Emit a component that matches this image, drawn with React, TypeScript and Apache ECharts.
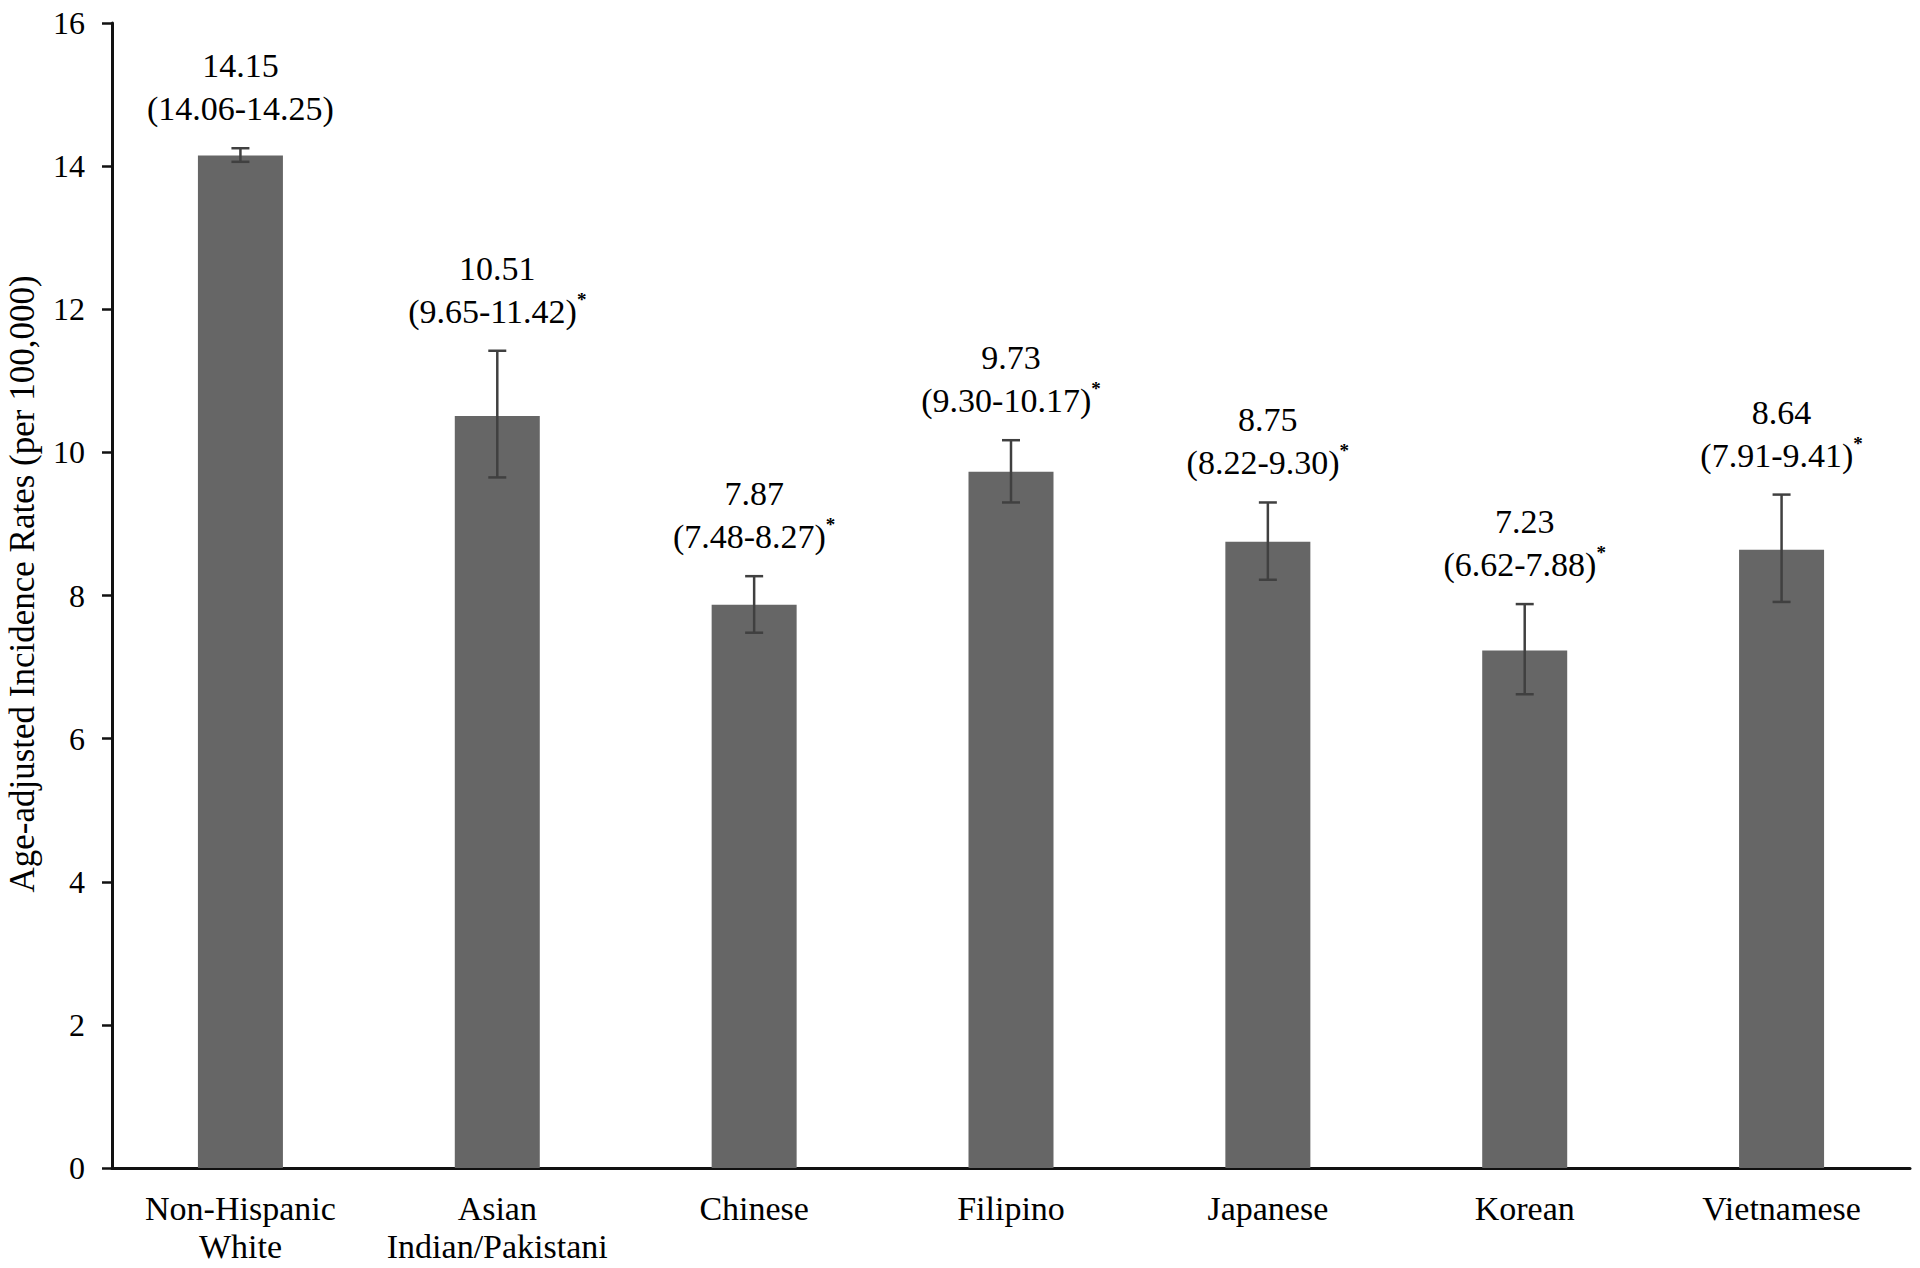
import React, { useEffect, useRef } from "react";
import * as echarts from "echarts";

const categories = [
  "Non-Hispanic\nWhite",
  "Asian\nIndian/Pakistani",
  "Chinese",
  "Filipino",
  "Japanese",
  "Korean",
  "Vietnamese",
];
const rates = [14.15, 10.51, 7.87, 9.73, 8.75, 7.23, 8.64];
const lower = [14.06, 9.65, 7.48, 9.3, 8.22, 6.62, 7.91];
const upper = [14.25, 11.42, 8.27, 10.17, 9.3, 7.88, 9.41];
const significant = [false, true, true, true, true, true, true];
const yMin = 0;
const yMax = 16;
const yInterval = 2;
const yTitle = "Age-adjusted Incidence Rates (per 100,000)";

const FONT = "'Liberation Serif', 'Times New Roman', serif";

export default function App() {
  const ref = useRef<HTMLDivElement>(null);

  useEffect(() => {
    if (!ref.current) return;
    const chart = echarts.init(ref.current, null, { renderer: "svg" });

    const errData = categories.map((_, i) => [i, lower[i], upper[i], rates[i]]);

    chart.setOption({
      animation: false,
      backgroundColor: "#ffffff",
      grid: { left: 112, right: 10, top: 23, bottom: 100, containLabel: false },
      xAxis: {
        type: "category",
        data: categories,
        axisLine: { show: true, lineStyle: { color: "#111", width: 3 } },
        axisTick: { show: false },
        axisLabel: {
          color: "#000",
          fontFamily: FONT,
          fontSize: 34,
          lineHeight: 38,
          margin: 21,
          interval: 0,
        },
        splitLine: { show: false },
      },
      yAxis: {
        type: "value",
        min: yMin,
        max: yMax,
        interval: yInterval,
        axisLine: { show: true, lineStyle: { color: "#111", width: 3 } },
        axisTick: { show: true, length: 10, lineStyle: { color: "#111", width: 2.5 } },
        axisLabel: { color: "#000", fontFamily: FONT, fontSize: 32, margin: 27 },
        splitLine: { show: false },
      },
      graphic: [
        {
          type: "text",
          x: 22,
          y: 584,
          rotation: Math.PI / 2,
          style: {
            text: yTitle,
            fill: "#000",
            fontFamily: FONT,
            fontSize: 35,
            align: "center",
            verticalAlign: "middle",
          },
        },
      ],
      series: [
        {
          type: "bar",
          data: rates,
          barWidth: 85,
          itemStyle: { color: "#666666" },
          z: 2,
        },
        {
          type: "custom",
          data: errData,
          encode: { x: 0, y: [1, 2] },
          clip: false,
          z: 3,
          renderItem: (params: any, api: any) => {
            const i = api.value(0);
            const lo = api.coord([i, api.value(1)]);
            const hi = api.coord([i, api.value(2)]);
            const x = hi[0];
            const idx = params.dataIndex;
            const cap = 9;
            const stroke = { stroke: "#404040", lineWidth: 2.5 };
            const line2 = `{a|(${lower[idx].toFixed(2)}-${upper[idx].toFixed(2)})}` +
              (significant[idx] ? "{s|*}" : "");
            const text = `{a|${rates[idx].toFixed(2)}}\n` + line2;
            return {
              type: "group",
              children: [
                { type: "line", shape: { x1: x, y1: lo[1], x2: x, y2: hi[1] }, style: stroke },
                { type: "line", shape: { x1: x - cap, y1: lo[1], x2: x + cap, y2: lo[1] }, style: stroke },
                { type: "line", shape: { x1: x - cap, y1: hi[1], x2: x + cap, y2: hi[1] }, style: stroke },
                {
                  type: "text",
                  x: x,
                  y: hi[1] - 18,
                  style: {
                    text,
                    fill: "#000",
                    fontFamily: FONT,
                    fontSize: 34,
                    lineHeight: 43,
                    align: "center",
                    verticalAlign: "bottom",
                    rich: {
                      a: { fontFamily: FONT, fontSize: 34, lineHeight: 43, fill: "#000", align: "center" },
                      s: {
                        fontFamily: FONT,
                        fontSize: 19,
                        fontWeight: "bold",
                        lineHeight: 32,
                        fill: "#000",
                        align: "center",
                        verticalAlign: "top",
                      },
                    },
                  },
                },
              ],
            };
          },
        },
      ],
    });

    return () => chart.dispose();
  }, []);

  return (
    <div
      ref={ref}
      style={{ position: "absolute", left: 0, top: 0, width: 1920, height: 1268, background: "#fff" }}
    />
  );
}
